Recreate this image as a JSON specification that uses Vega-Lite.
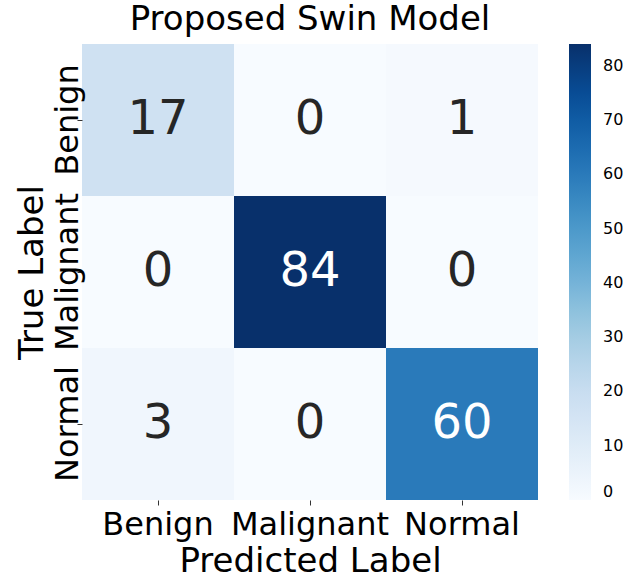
{
  "$schema": "https://vega.github.io/schema/vega-lite/v6.json",
  "width": 456,
  "height": 456,
  "autosize": "none",
  "padding": {"left": 82, "top": 44, "right": 89, "bottom": 80},
  "background": "white",
  "config": {
    "view": {"stroke": null},
    "font": "DejaVu Sans"
  },
  "title": {
    "text": "Proposed Swin Model",
    "fontSize": 34,
    "font": "DejaVu Sans",
    "fontWeight": "normal",
    "color": "black",
    "baseline": "alphabetic",
    "offset": 12,
    "dy": 32,
    "anchor": "middle"
  },
  "data": {
    "values": [
      {"true": "Benign", "pred": "Benign", "count": 17},
      {"true": "Benign", "pred": "Malignant", "count": 0},
      {"true": "Benign", "pred": "Normal", "count": 1},
      {"true": "Malignant", "pred": "Benign", "count": 0},
      {"true": "Malignant", "pred": "Malignant", "count": 84},
      {"true": "Malignant", "pred": "Normal", "count": 0},
      {"true": "Normal", "pred": "Benign", "count": 3},
      {"true": "Normal", "pred": "Malignant", "count": 0},
      {"true": "Normal", "pred": "Normal", "count": 60}
    ]
  },
  "encoding": {
    "x": {
      "field": "pred",
      "type": "nominal",
      "sort": ["Benign", "Malignant", "Normal"],
      "scale": {"paddingInner": 0, "paddingOuter": 0},
      "axis": {
        "title": "Predicted Label",
        "titleFontSize": 34,
        "titleFontWeight": "normal",
        "titleColor": "black",
        "titleBaseline": "alphabetic",
        "titleY": 71,
        "labelFontSize": 32,
        "labelColor": "black",
        "labelAngle": 0,
        "labelPadding": 4,
        "tickSize": 5,
        "tickColor": "#333333",
        "domain": false,
        "grid": false
      }
    },
    "y": {
      "field": "true",
      "type": "nominal",
      "sort": ["Benign", "Malignant", "Normal"],
      "scale": {"paddingInner": 0, "paddingOuter": 0},
      "axis": {
        "title": "True Label",
        "titleFontSize": 34,
        "titleFontWeight": "normal",
        "titleColor": "black",
        "titleAngle": -90,
        "titleBaseline": "alphabetic",
        "titleAlign": "center",
        "titleX": -40,
        "titleY": 228,
        "labelFontSize": 32,
        "labelColor": "black",
        "labelAngle": -90,
        "labelAlign": "center",
        "labelBaseline": "alphabetic",
        "labelPadding": 0,
        "tickSize": 5,
        "tickColor": "#333333",
        "domain": false,
        "grid": false
      }
    }
  },
  "layer": [
    {
      "mark": {"type": "rect"},
      "encoding": {
        "color": {
          "field": "count",
          "type": "quantitative",
          "scale": {
            "domain": [0, 10.5, 21, 31.5, 42, 52.5, 63, 73.5, 84],
            "range": ["#f7fbff", "#deebf7", "#c6dbef", "#9ecae1", "#6baed6", "#4292c6", "#2171b5", "#08519c", "#08306b"],
            "interpolate": "rgb"
          },
          "legend": {
            "title": null,
            "direction": "vertical",
            "gradientLength": 456,
            "gradientThickness": 22,
            "offset": 31,
            "padding": 0,
            "values": [0, 10, 20, 30, 40, 50, 60, 70, 80],
            "labelFontSize": 16,
            "labelColor": "black",
            "labelOffset": 12,
            "labelBaseline": "middle",
            "labelOverlap": false,
            "gradientStrokeWidth": 0
          }
        }
      }
    },
    {
      "mark": {"type": "text", "fontSize": 48, "font": "DejaVu Sans", "baseline": "middle"},
      "encoding": {
        "text": {"field": "count", "type": "quantitative"},
        "color": {
          "condition": {"test": "datum.count > 42", "value": "white"},
          "value": "#262626"
        }
      }
    }
  ]
}
